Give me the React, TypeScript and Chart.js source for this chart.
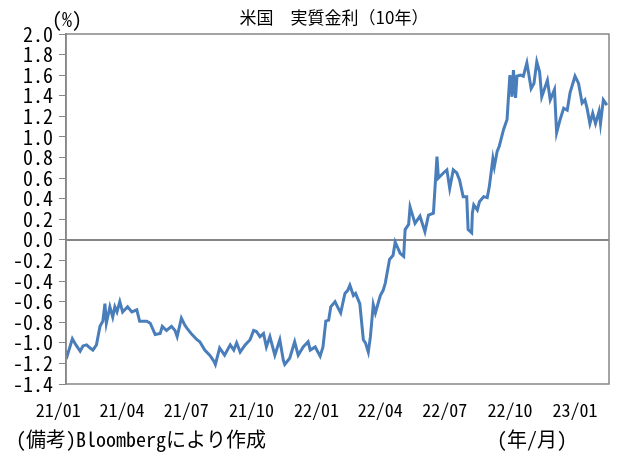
import React, { useEffect, useRef } from "react";
import { Chart, registerables } from "chart.js";

Chart.register(...registerables);

// ---- data ----
const dates: string[] = [
  "2021-01-12","2021-01-14","2021-01-21","2021-01-26","2021-02-01","2021-02-05","2021-02-10","2021-02-15",
  "2021-02-19","2021-02-24","2021-03-01","2021-03-05","2021-03-08","2021-03-10","2021-03-15","2021-03-19",
  "2021-03-22","2021-03-25","2021-03-29","2021-04-02","2021-04-09","2021-04-15","2021-04-22","2021-04-26",
  "2021-05-06","2021-05-11","2021-05-18","2021-05-25","2021-05-28","2021-06-03","2021-06-10","2021-06-15",
  "2021-06-18","2021-06-24","2021-06-29","2021-07-02","2021-07-09","2021-07-16","2021-07-20","2021-07-27",
  "2021-08-03","2021-08-09","2021-08-11","2021-08-17","2021-08-24","2021-09-01","2021-09-06","2021-09-10",
  "2021-09-15","2021-09-22","2021-09-29","2021-10-04","2021-10-08","2021-10-13","2021-10-18","2021-10-22",
  "2021-10-27","2021-11-03","2021-11-10","2021-11-15","2021-11-17","2021-11-24","2021-12-01","2021-12-06",
  "2021-12-13","2021-12-20","2021-12-23","2021-12-30","2022-01-06","2022-01-10","2022-01-14","2022-01-18",
  "2022-01-21","2022-01-27","2022-02-01","2022-02-04","2022-02-10","2022-02-14","2022-02-17","2022-02-22",
  "2022-02-25","2022-03-03","2022-03-08","2022-03-11","2022-03-15","2022-03-18","2022-03-22","2022-03-25",
  "2022-04-01","2022-04-05","2022-04-08","2022-04-14","2022-04-19","2022-04-22","2022-04-29","2022-05-04",
  "2022-05-06","2022-05-11","2022-05-13","2022-05-20","2022-05-27","2022-06-03","2022-06-08","2022-06-15",
  "2022-06-20","2022-06-22","2022-06-29","2022-07-04","2022-07-08","2022-07-13","2022-07-18","2022-07-22",
  "2022-07-27","2022-08-01","2022-08-03","2022-08-08","2022-08-09","2022-08-11","2022-08-16","2022-08-19",
  "2022-08-25","2022-08-30","2022-09-02","2022-09-07","2022-09-09","2022-09-13","2022-09-16","2022-09-22",
  "2022-09-27","2022-09-29","2022-10-01","2022-10-04","2022-10-06","2022-10-09","2022-10-11","2022-10-16",
  "2022-10-20","2022-10-25","2022-10-31","2022-11-04","2022-11-08","2022-11-12","2022-11-15","2022-11-20",
  "2022-11-23","2022-11-27","2022-12-03","2022-12-06","2022-12-11","2022-12-16","2022-12-21","2022-12-25",
  "2023-01-01","2023-01-06","2023-01-11","2023-01-15","2023-01-18","2023-01-22","2023-01-26","2023-01-30",
  "2023-02-04","2023-02-06","2023-02-10","2023-02-15",
];

const realYield10y: number[] = [
  -1.08,-1.12,-0.96,-1.02,-1.08,-1.03,-1.02,-1.05,
  -1.07,-1.02,-0.84,-0.79,-0.62,-0.81,-0.65,-0.75,
  -0.65,-0.70,-0.60,-0.70,-0.65,-0.70,-0.68,-0.79,
  -0.79,-0.81,-0.92,-0.91,-0.84,-0.88,-0.84,-0.88,
  -0.94,-0.76,-0.83,-0.86,-0.92,-0.97,-0.99,-1.07,
  -1.12,-1.18,-1.21,-1.05,-1.12,-1.02,-1.07,-1.00,
  -1.09,-1.02,-0.97,-0.88,-0.89,-0.94,-0.91,-1.04,
  -0.94,-1.12,-0.97,-1.17,-1.21,-1.15,-0.99,-1.12,
  -1.04,-0.99,-1.07,-1.04,-1.13,-1.04,-0.79,-0.78,
  -0.65,-0.60,-0.67,-0.71,-0.52,-0.49,-0.44,-0.54,
  -0.52,-0.62,-0.97,-1.00,-1.09,-0.94,-0.63,-0.71,
  -0.54,-0.49,-0.42,-0.19,-0.15,-0.02,-0.13,-0.16,
  0.10,0.15,0.32,0.16,0.23,0.08,0.24,0.26,
  0.81,0.60,0.65,0.68,0.50,0.68,0.65,0.58,
  0.42,0.42,0.10,0.07,0.26,0.34,0.29,0.37,
  0.42,0.41,0.52,0.79,0.71,0.86,0.91,1.07,
  1.17,1.39,1.60,1.39,1.65,1.38,1.59,1.60,
  1.59,1.72,1.47,1.52,1.73,1.63,1.39,1.49,
  1.55,1.36,1.46,1.04,1.17,1.28,1.26,1.43,
  1.59,1.52,1.33,1.36,1.28,1.13,1.23,1.13,
  1.25,1.13,1.36,1.31,
];

const xTickDates: string[] = [
  "2021-01-01","2021-04-01","2021-07-01","2021-10-01",
  "2022-01-01","2022-04-01","2022-07-01","2022-10-01","2023-01-01",
];
const yTicks: number[] = [-1.4,-1.2,-1.0,-0.8,-0.6,-0.4,-0.2,0,0.2,0.4,0.6,0.8,1.0,1.2,1.4,1.6,1.8,2.0];
const axisStart = "2021-01-12";
const axisEnd = "2023-02-18";

const titleText = "米国　実質金利（10年）";
const unitText = "(%)";
const noteText = "(備考)Bloombergにより作成";
const xUnitText = "(年/月)";

// ---- helpers ----
const dayNum = (s: string) => {
  const [y, m, d] = s.split("-").map(Number);
  return Date.UTC(y, m - 1, d) / 86400000;
};
const base = dayNum("2021-01-01");
const toX = (s: string) => dayNum(s) - base;
const tickLabel = (s: string) => s.slice(2, 4) + "/" + s.slice(5, 7);

const JP = '"Noto Sans CJK JP", "Noto Sans", sans-serif';
const MONO = '"Noto Sans Mono CJK JP", "Liberation Mono", monospace';
const AXIS_GRAY = "#868686";

export default function App() {
  const canvasRef = useRef<HTMLCanvasElement | null>(null);

  useEffect(() => {
    if (!canvasRef.current) return;

    const extras = {
      id: "extras",
      beforeDatasetsDraw(chart: any) {
        const { ctx, chartArea } = chart;
        const y0 = chart.scales.y.getPixelForValue(0);
        ctx.save();
        ctx.strokeStyle = AXIS_GRAY;
        ctx.lineWidth = 2;
        ctx.beginPath();
        ctx.moveTo(chartArea.left, y0);
        ctx.lineTo(chartArea.right, y0);
        ctx.stroke();
        ctx.restore();
      },
      afterDraw(chart: any) {
        const { ctx, chartArea } = chart;
        ctx.save();
        ctx.strokeStyle = AXIS_GRAY;
        ctx.lineWidth = 1.5;
        ctx.strokeRect(chartArea.left, chartArea.top, chartArea.right - chartArea.left, chartArea.bottom - chartArea.top);
        ctx.fillStyle = "#000";
        ctx.textBaseline = "middle";
        ctx.font = `17px ${JP}`;
        ctx.textAlign = "center";
        ctx.fillText(titleText, 334, 18);
        ctx.textAlign = "left";
        ctx.font = `20px ${MONO}`;
        ctx.fillText(unitText, 52, 19);
        ctx.fillText(noteText, 16, 439);
        ctx.textAlign = "center";
        ctx.fillText(xUnitText, 532, 439);
        ctx.restore();
      },
    };

    const chart = new Chart(canvasRef.current, {
      type: "line",
      data: {
        datasets: [
          {
            label: "実質金利（10年）",
            data: dates.map((d, i) => ({ x: toX(d), y: realYield10y[i] })),
            borderColor: "#4A7EBB",
            borderWidth: 3,
            pointRadius: 0,
            tension: 0,
            fill: false,
          },
        ],
      },
      options: {
        animation: false,
        responsive: false,
        devicePixelRatio: 1,
        layout: { padding: { left: 0, right: 22, top: 34, bottom: 0 } },
        plugins: { legend: { display: false }, tooltip: { enabled: false }, title: { display: false } },
        scales: {
          x: {
            type: "linear",
            min: toX(axisStart),
            max: toX(axisEnd),
            afterBuildTicks: (scale: any) => {
              scale.ticks = xTickDates.map((d) => ({ value: toX(d) }));
            },
            afterFit: (scale: any) => {
              scale.height = 71;
            },
            ticks: {
              autoSkip: false,
              maxRotation: 0,
              padding: 15,
              color: "#000",
              font: { family: MONO, size: 18 },
              callback: (v: any) => {
                const i = xTickDates.findIndex((d) => toX(d) === v);
                return i >= 0 ? tickLabel(xTickDates[i]) : "";
              },
            },
            grid: { display: false, drawTicks: false },
            border: { display: false },
          },
          y: {
            type: "linear",
            min: -1.4,
            max: 2.0,
            afterBuildTicks: (scale: any) => {
              scale.ticks = yTicks.map((v) => ({ value: v }));
            },
            afterFit: (scale: any) => {
              scale.width = 66;
            },
            ticks: {
              autoSkip: false,
              padding: 6,
              color: "#000",
              font: { family: MONO, size: 20, lineHeight: 1 },
              callback: (v: any) => Number(v).toFixed(1),
            },
            grid: { drawOnChartArea: false, drawTicks: true, tickLength: 7, color: AXIS_GRAY },
            border: { display: true, color: AXIS_GRAY, width: 1.5 },
          },
        },
      },
      plugins: [extras],
    } as any);

    return () => chart.destroy();
  }, []);

  return (
    <div style={{ position: "fixed", left: 0, top: 0, width: 631, height: 455, background: "#fff" }}>
      <canvas ref={canvasRef} width={631} height={455} style={{ display: "block" }} />
    </div>
  );
}
